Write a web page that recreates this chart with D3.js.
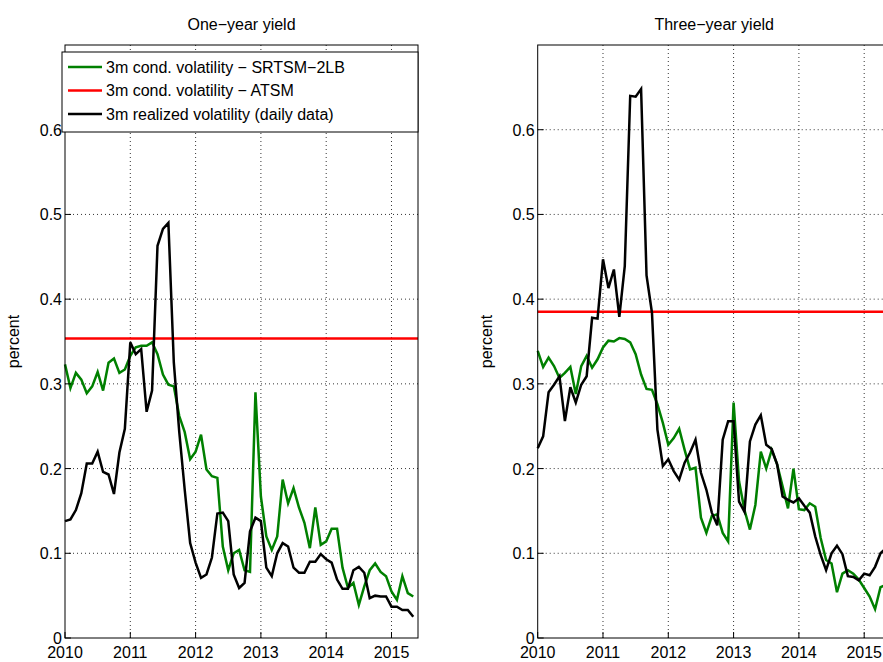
<!DOCTYPE html>
<html><head><meta charset="utf-8">
<script src="https://cdn.jsdelivr.net/npm/d3@7"></script>
<style>body{margin:0;background:#fff}text{font-family:"Liberation Sans",Arial,sans-serif}</style>
</head><body><svg id="chart" width="883" height="662"></svg>
<script>
var yearTicks = [2010, 2011, 2012, 2013, 2014, 2015];
var valueTicks = [0, 0.1, 0.2, 0.3, 0.4, 0.5, 0.6];
var titles = ["One\u2212year yield", "Three\u2212year yield"];
var legendLabels = ["3m cond. volatility \u2212 SRTSM\u22122LB", "3m cond. volatility \u2212 ATSM", "3m realized volatility (daily data)"];

// monthly from Jan 2010
var oneSrtsm = [0.323,0.295,0.313,0.305,0.289,0.297,0.314,0.292,0.325,0.330,0.313,0.317,0.333,0.343,0.345,0.345,0.349,0.335,0.311,0.299,0.297,
  0.262,0.243,0.211,0.220,0.240,0.199,0.191,0.189,0.108,0.080,0.100,0.104,0.080,0.078,0.290,0.167,0.120,0.104,0.120,0.187,0.159,0.177,0.154,0.136,0.106,0.154,0.110,0.114,0.129,0.129,0.083,0.059,0.065,0.039,0.061,0.080,0.088,0.078,0.073,0.055,0.045,0.073,0.053,0.049];
var oneRealized = [0.138,0.140,0.151,0.171,0.206,0.206,0.220,0.196,0.193,0.170,0.219,0.247,0.349,0.335,0.341,0.267,0.292,0.463,0.483,0.490,0.325,0.243,0.175,
  0.112,0.089,0.071,0.075,0.095,0.147,0.148,0.138,0.075,0.059,0.065,0.126,0.142,0.138,0.083,0.073,0.100,0.112,0.108,0.083,0.077,0.077,0.090,0.090,0.099,0.093,0.089,0.069,0.058,0.058,0.080,0.084,0.077,0.047,0.050,0.049,0.049,0.037,0.037,0.033,0.033,0.025];
var oneAtsm = 0.3535;

var threeSrtsm = [0.339,0.320,0.331,0.321,0.307,0.313,0.320,0.288,0.321,0.333,0.319,0.329,0.343,0.351,0.350,0.354,0.353,0.349,0.335,0.311,0.294,0.293,0.276,0.254,0.228,0.236,0.247,0.222,0.199,
  0.201,0.142,0.124,0.144,0.146,0.124,0.114,0.278,0.185,0.151,0.128,0.157,0.220,0.200,0.222,0.205,0.179,0.153,0.200,0.152,0.151,0.159,0.155,0.118,0.092,0.088,0.054,0.076,0.080,0.076,0.069,0.059,0.049,0.034,0.060,0.063];
var threeRealized = [0.224,0.238,0.290,0.299,0.309,0.256,0.296,0.278,0.299,0.309,0.378,0.377,0.447,0.413,0.435,0.379,0.439,0.640,0.639,0.648,0.428,0.384,0.246,0.203,0.211,0.197,0.187,0.207,0.219,
  0.234,0.195,0.175,0.148,0.133,0.234,0.256,0.256,0.161,0.149,0.232,0.252,0.263,0.228,0.223,0.205,0.167,0.163,0.160,0.165,0.156,0.148,0.120,0.098,0.080,0.100,0.109,0.099,0.073,0.072,0.068,0.076,0.074,0.084,0.100,0.106];
var threeAtsm = 0.385;

var svg = d3.select("#chart");
var plotTop = 45, plotBottom = 638, plotW = 353;
var y = d3.scaleLinear().domain([0, 0.7]).range([plotBottom, plotTop]);

function panel(left, title, srtsm, realized, atsm, legend) {
  var x = d3.scaleLinear().domain([2010, 2015.406]).range([left, left + plotW]);
  var g = svg.append("g");
  // grid
  g.selectAll(".gx").data(yearTicks.slice(1)).enter().append("line")
    .attr("x1", x).attr("x2", x).attr("y1", plotTop).attr("y2", plotBottom)
    .attr("stroke", "#000").attr("stroke-width", 0.8).attr("stroke-dasharray", "1,3");
  g.selectAll(".gy").data(valueTicks.slice(1)).enter().append("line")
    .attr("x1", left).attr("x2", left + plotW).attr("y1", y).attr("y2", y)
    .attr("stroke", "#000").attr("stroke-width", 0.8).attr("stroke-dasharray", "1,3");
  var line = d3.line().x(function(d, i){ return x(2010 + i / 12); }).y(function(d){ return y(d); });
  g.append("line").attr("x1", left).attr("x2", left + plotW).attr("y1", y(atsm)).attr("y2", y(atsm))
    .attr("stroke", "#ff0000").attr("stroke-width", 2.5);
  g.append("path").datum(srtsm).attr("d", line).attr("fill", "none").attr("stroke", "#008000").attr("stroke-width", 2.5);
  g.append("path").datum(realized).attr("d", line).attr("fill", "none").attr("stroke", "#000").attr("stroke-width", 2.5);
  // box
  g.append("rect").attr("x", left).attr("y", plotTop).attr("width", plotW).attr("height", plotBottom - plotTop)
    .attr("fill", "none").attr("stroke", "#000").attr("stroke-width", 1);
  // ticks and labels
  g.selectAll(".tx").data(yearTicks).enter().append("text")
    .attr("x", x).attr("y", plotBottom + 20).attr("text-anchor", "middle").attr("font-size", 16).text(function(d){ return d; });
  g.selectAll(".ty").data(valueTicks).enter().append("text")
    .attr("x", left - 3).attr("y", function(d){ return y(d) + 6; }).attr("text-anchor", "end").attr("font-size", 16)
    .text(function(d){ return d; });
  g.selectAll(".mx").data(yearTicks).enter().append("line")
    .attr("x1", x).attr("x2", x).attr("y1", plotBottom).attr("y2", plotBottom - 6).attr("stroke", "#000");
  g.selectAll(".my").data(valueTicks).enter().append("line")
    .attr("x1", left).attr("x2", left + 6).attr("y1", y).attr("y2", y).attr("stroke", "#000");
  g.append("text").attr("x", left + plotW / 2).attr("y", 30).attr("text-anchor", "middle").attr("font-size", 16).text(title);
  g.append("text").attr("transform", "translate(" + (left - 46) + "," + ((plotTop + plotBottom) / 2) + ") rotate(-90)")
    .attr("text-anchor", "middle").attr("font-size", 16).text("percent");
  if (legend) {
    var lg = g.append("g");
    lg.append("rect").attr("x", 62).attr("y", 52).attr("width", 356).attr("height", 80)
      .attr("fill", "#fff").attr("stroke", "#000");
    var cols = ["#008000", "#ff0000", "#000"];
    legendLabels.forEach(function(t, i){
      var yy = 67 + i * 23.5;
      lg.append("line").attr("x1", 68).attr("x2", 102).attr("y1", yy).attr("y2", yy).attr("stroke", cols[i]).attr("stroke-width", 2.5);
      lg.append("text").attr("x", 106).attr("y", yy + 5.5).attr("font-size", 16).text(t);
    });
  }
}
panel(65, titles[0], oneSrtsm, oneRealized, oneAtsm, true);
panel(537.7, titles[1], threeSrtsm, threeRealized, threeAtsm, false);
</script></body></html>
